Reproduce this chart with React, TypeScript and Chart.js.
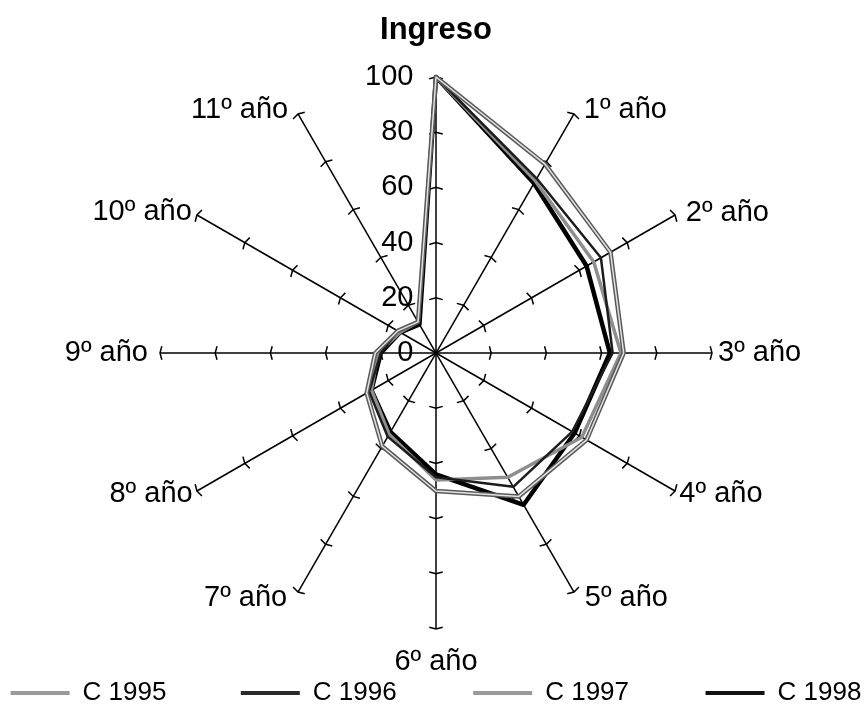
import React, { useEffect, useRef } from 'react';
import { Chart, registerables } from 'chart.js';

Chart.register(...registerables);

// ---- data ----
const axisLabels = ['Ingreso', '1º año', '2º año', '3º año', '4º año', '5º año', '6º año', '7º año', '8º año', '9º año', '10º año', '11º año'];
const seriesNames = ['C 1995', 'C 1996', 'C 1997', 'C 1998'];
const c1995 = [100, 79, 73, 68, 63, 60, 50, 39, 29, 22, 16, 13];
const c1996 = [100, 73, 69, 64, 57, 56, 45, 35, 28, 20, 16, 13];
const c1997 = [100, 72, 66, 67, 61, 52, 46, 34, 27, 21, 15, 13];
const c1998 = [100, 71, 63, 63, 58, 63.5, 44, 33, 27, 20, 15, 12];
const tickValues = [0, 20, 40, 60, 80, 100];

// ---- styles ----
const FONT = '"Liberation Sans", Arial, Helvetica, sans-serif';
const labelFontSize = 29;
const titleLabelFontSize = 31;
const tickFontSize = 29;
const legendFontSize = 26;
// radial distance of each axis label beyond the axis end, and sideways nudge (px)
const labelDistances = [47, 5, 4, 6, 5, 7, 33, 7, 5, 12, 6, 5];
const labelNudges = [0, 8, 8, 0, 0, 8, 0, 8, 0, 0, 0, 8];
const tickLabelGap = 22;
const tickMarkLen = 14;
const legendSpacing = 232;
const legendPad = 5;
const legendBoxWidth = 59;
const seriesColors = ['#5a5a5a', '#1c1c1c', '#8e8e8e', '#000000'];
const seriesWidths = [4.5, 2.5, 3.5, 4.5];
const legendColors = ['#9a9a9a', '#2a2a2a', '#9a9a9a', '#111111'];
const hollowColor = '#e2e2e2';
const HAIR = '\u200A';

Chart.defaults.font.family = FONT;
Chart.defaults.color = '#000';

// pad a string with spaces (then hair spaces) until its width reaches `extra` more pixels
function padText(ctx: CanvasRenderingContext2D, text: string, extra: number, leading: boolean) {
  if (extra <= 0) return text;
  const base = ctx.measureText(text).width;
  const sw = ctx.measureText(' ').width;
  let n = Math.floor(extra / sw);
  let pad = ' '.repeat(n);
  const hw = ctx.measureText(HAIR).width;
  if (hw > 0.2) {
    let cur = ctx.measureText(leading ? pad + text : text + pad).width - base;
    let guard = 0;
    while (cur + hw <= extra + hw / 2 && guard < 40) {
      pad += HAIR;
      cur += hw;
      guard++;
    }
  }
  return leading ? pad + text : text + pad;
}

function makeDataset(label: string, data: number[], color: string, width: number, order: number) {
  return {
    label,
    data,
    borderColor: color,
    backgroundColor: color,
    borderWidth: width,
    fill: false,
    pointRadius: 0,
    pointHoverRadius: 0,
    tension: 0,
    borderJoinStyle: 'round',
    order,
  };
}

export default function App() {
  const ref = useRef<HTMLCanvasElement>(null);

  useEffect(() => {
    if (!ref.current) return;
    const chart = new Chart(ref.current, {
      type: 'radar',
      data: {
        labels: axisLabels,
        datasets: [
          makeDataset(seriesNames[0], c1995, seriesColors[0], seriesWidths[0], 0),
          makeDataset(seriesNames[1], c1996, seriesColors[1], seriesWidths[1], 1),
          makeDataset(seriesNames[2], c1997, seriesColors[2], seriesWidths[2], 1),
          makeDataset(seriesNames[3], c1998, seriesColors[3], seriesWidths[3], 1),
          makeDataset(seriesNames[0] + ' ', c1995, hollowColor, 1.5, -1),
        ] as any,
      },
      options: {
        responsive: false,
        animation: false,
        events: [],
        layout: { padding: { top: 23, bottom: -3, left: 0, right: 0 } },
        plugins: {
          tooltip: { enabled: false },
          title: { display: false },
          legend: {
            display: true,
            position: 'bottom',
            title: { display: true, text: '', font: { size: 4 }, padding: 0 },
            labels: {
              font: { size: legendFontSize, family: FONT },
              color: '#000',
              boxWidth: legendBoxWidth,
              boxHeight: 4,
              padding: legendPad,
              generateLabels: (ch: any) => {
                const ctx = ch.ctx as CanvasRenderingContext2D;
                ctx.save();
                ctx.font = `${legendFontSize}px ${FONT}`;
                let cum = 0;
                const base = legendBoxWidth + legendFontSize / 2;
                const items = seriesNames.map((name, i) => {
                  let text = name;
                  if (i < seriesNames.length - 1) {
                    const targetEnd = (i + 1) * legendSpacing - legendPad;
                    const w = ctx.measureText(name).width;
                    const need = targetEnd - cum - base - w;
                    text = padText(ctx, name, need - 1, false);
                    cum += base + ctx.measureText(text).width + legendPad;
                  }
                  return {
                    text,
                    fillStyle: legendColors[i],
                    strokeStyle: legendColors[i],
                    lineWidth: 0,
                    hidden: false,
                    datasetIndex: i,
                  };
                });
                ctx.restore();
                return items;
              },
            },
          },
        },
        scales: {
          r: {
            min: 0,
            max: 100,
            startAngle: 0,
            afterBuildTicks: (scale: any) => {
              scale.ticks = [{ value: tickValues[0] }, ...tickValues.map((v) => ({ value: v }))];
            },
            angleLines: { display: true, color: '#000', lineWidth: 1.5 },
            grid: {
              display: true,
              circular: false,
              color: '#000',
              lineWidth: (c: any) => (c.tick && c.tick.value > 0 ? 1.5 : 0),
            },
            border: {
              dash: (c: any) => {
                const r = c.scale.getDistanceFromCenterForValue(c.tick.value);
                const L = 2 * r * Math.sin(Math.PI / axisLabels.length);
                return [tickMarkLen, Math.max(L - tickMarkLen, 0.1)];
              },
              dashOffset: tickMarkLen / 2,
            },
            ticks: {
              display: true,
              color: '#000',
              font: { size: tickFontSize, family: FONT },
              showLabelBackdrop: false,
              backdropPadding: -0.5,
              callback: function (this: any, value: any) {
                const ctx = this.ctx as CanvasRenderingContext2D;
                ctx.save();
                ctx.font = `${tickFontSize}px ${FONT}`;
                const s = String(value);
                const w = ctx.measureText(s).width;
                const out = padText(ctx, s, w + 2 * tickLabelGap, false);
                ctx.restore();
                return out;
              },
            },
            pointLabels: {
              display: true,
              color: '#000',
              padding: (c: any) => labelDistances[c.index] - 14,
              font: (c: any) =>
                c.index === 0
                  ? { size: titleLabelFontSize, weight: 'bold', family: FONT, lineHeight: 0 }
                  : { size: labelFontSize, family: FONT, lineHeight: 0 },
              callback: function (this: any, label: string, index: number) {
                const nudge = labelNudges[index];
                if (!nudge) return label;
                const ctx = this.ctx as CanvasRenderingContext2D;
                ctx.save();
                ctx.font = `${labelFontSize}px ${FONT}`;
                const leading = index < axisLabels.length / 2;
                const out = padText(ctx, label, nudge, leading);
                ctx.restore();
                return out;
              },
            },
          },
        },
      } as any,
    });
    return () => chart.destroy();
  }, []);

  return (
    <div style={{ position: 'absolute', left: 5, top: 0, width: 862, height: 713 }}>
      <canvas ref={ref} width={862} height={713} style={{ display: 'block' }} />
    </div>
  );
}
